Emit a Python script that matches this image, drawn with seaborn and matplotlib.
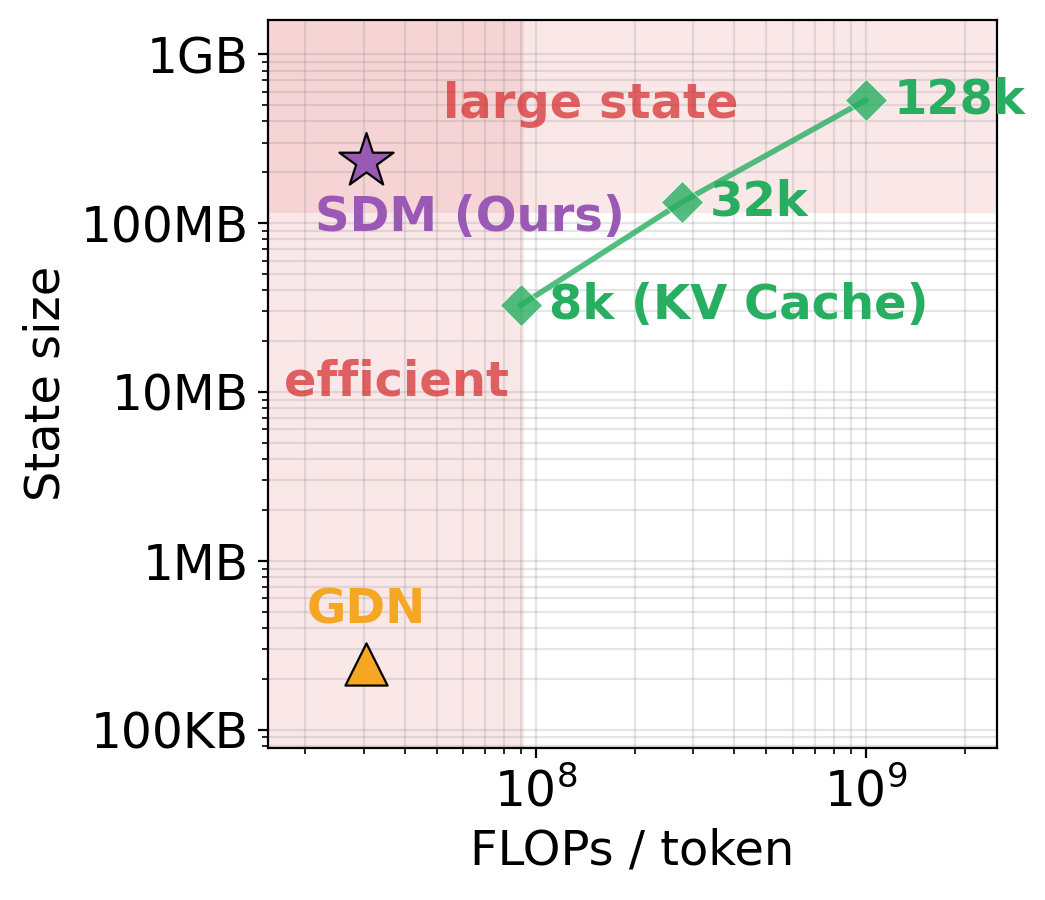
import seaborn as sns
import pandas as pd
import numpy as np
import matplotlib.pyplot as plt
from matplotlib.ticker import FixedLocator, FixedFormatter

# data (FLOPs per token, state size in bytes)
kv_labels = ['8k (KV Cache)', '32k', '128k']
kv_flops = [9.0e7, 2.77e8, 1.0e9]
kv_state = [3.27e7, 1.33e8, 5.35e8]

sdm_flops = [3.05e7]
sdm_state = [2.33e8]
gdn_flops = [3.05e7]
gdn_state = [2.45e5]

ytick_vals = [1e5, 1e6, 1e7, 1e8, 1e9]
ytick_labels = ['100KB', '1MB', '10MB', '100MB', '1GB']

green = '#27ae60'
purple = '#9b59b6'
orange = '#f5a623'
red = '#d62728'

kv = pd.DataFrame({'flops': kv_flops, 'state': kv_state, 'label': kv_labels})

fig, ax = plt.subplots(figsize=(5.225, 4.5), dpi=200)
fig.subplots_adjust(left=0.2565, right=0.954, top=0.978, bottom=0.169)
ax.set_xscale('log')
ax.set_yscale('log')
ax.set_xlim(1.54e7, 2.5e9)
ax.set_ylim(7.8e4, 1.6e9)

# shaded regions
ax.axvspan(1e6, 9.2e7, color=red, alpha=0.1, lw=0, zorder=0)
ax.axhspan(1.15e8, 1e10, color=red, alpha=0.1, lw=0, zorder=0)

ax.grid(True, which='both', color='gray', alpha=0.2, lw=0.8, zorder=1)

sns.lineplot(data=kv, x='flops', y='state', color=green, lw=2, alpha=0.8,
             marker='D', markersize=10.5, markeredgecolor='white', markeredgewidth=0.3,
             ax=ax, zorder=3)
for x, y, lab in zip(kv_flops, kv_state, kv_labels):
    ax.annotate(lab, (x, y), xytext=(10, 0), textcoords='offset points',
                va='center', ha='left', fontsize=17.3, fontweight='bold', color=green)

sns.scatterplot(x=sdm_flops, y=sdm_state, marker='*', s=420, color=purple,
                edgecolor='black', linewidth=0.8, ax=ax, zorder=4)
sns.scatterplot(x=gdn_flops, y=gdn_state, marker='^', s=230, color=orange,
                edgecolor='black', linewidth=0.8, ax=ax, zorder=4)

ax.text(6.3e7, 1.08e8, 'SDM (Ours)', ha='center', va='center', fontsize=17.3,
        fontweight='bold', color=purple)
ax.text(3.05e7, 5.1e5, 'GDN', ha='center', va='center', fontsize=17.3,
        fontweight='bold', color=orange)
ax.text(1.47e8, 5.06e8, 'large state', ha='center', va='center', fontsize=17.3,
        fontweight='bold', color=red, alpha=0.7)
ax.text(3.77e7, 1.15e7, 'efficient', ha='center', va='center', fontsize=17.3,
        fontweight='bold', color=red, alpha=0.7)

ax.yaxis.set_major_locator(FixedLocator(ytick_vals))
ax.yaxis.set_major_formatter(FixedFormatter(ytick_labels))
ax.tick_params(labelsize=17.5)
ax.set_xlabel('FLOPs / token', fontsize=17.3)
ax.set_ylabel('State size', fontsize=17.3)

fig.savefig('out.png')
